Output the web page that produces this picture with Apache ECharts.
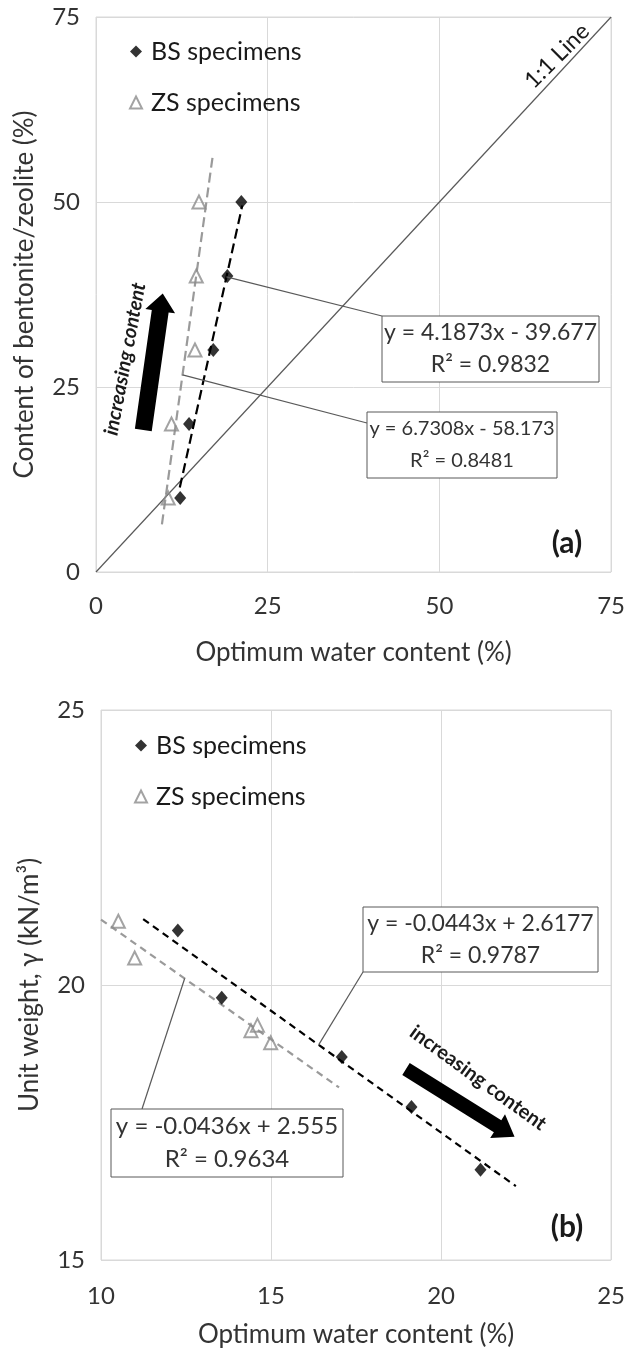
<!DOCTYPE html>
<html>
<head>
<meta charset="utf-8">
<script src="https://cdn.jsdelivr.net/npm/echarts@6/dist/echarts.min.js"></script>
<style>
  html, body { margin: 0; padding: 0; background: #fff; }
  #chart { width: 628px; height: 1349px; }
</style>
</head>
<body>
<div id="chart"></div>
<script>
// Bentonite / zeolite content of the specimens (%)
const contentPct = [10, 20, 30, 40, 50];
// Optimum water content (%) at each content level
const bsWater = [12.26, 13.55, 17.08, 19.13, 21.16];
const zsWater = [10.51, 10.99, 14.41, 14.60, 14.99];
// Maximum dry unit weight (kN/m³) at each content level
const bsUnitWeight = [20.99, 19.77, 18.69, 17.78, 16.64];
const zsUnitWeight = [21.16, 20.49, 19.17, 19.27, 18.95];

// Axis ticks
const waterTicksA = [0, 25, 50, 75];
const contentTicks = [0, 25, 50, 75];
const waterTicksB = [10, 15, 20, 25];
const unitWeightTicks = [15, 20, 25];

// Linear trendlines (slope, intercept, R², drawn x-range)
const bsContentFit = [4.1873, -39.677, '0.9832', 12.2, 21.3];
const zsContentFit = [6.7308, -58.173, '0.8481', 9.6, 17.05];
const bsWeightFit = [-0.0443, 2.6177, '0.9787', 11.24, 22.2];
const zsWeightFit = [-0.0436, 2.555, '0.9634', 10.0, 17.0];
// unit-weight fits are in Mg/m³; ×10 gives kN/m³ on the axis
const WEIGHT_UNIT = 10;

const FONT = 'Lato, "Open Sans", sans-serif';
const TEXT = '#333333';
const LIGHT = '#d9d9d9';
const GREY = '#8c8c8c';

const zip = (xs, ys) => xs.map((x, i) => [x, ys[i]]);
const fitLine = (f, k) => [[f[3], k * (f[0] * f[3] + f[1])], [f[4], k * (f[0] * f[4] + f[1])]];
const fitAt = (f, k, x) => [x, k * (f[0] * x + f[1])];
const eqText = f => {
  const sign = f[1] < 0 ? '-' : '+';
  return 'y = ' + f[0] + 'x ' + sign + ' ' + Math.abs(f[1]) + '\nR² = ' + f[2];
};
const step = t => t[1] - t[0];

const gridA = { left: 96, top: 17, width: 519, height: 555 };
const gridB = { left: 101, top: 710, width: 511, height: 550 };

function valueAxis(ticks, gridIndex, name, nameGap, labelMargin) {
  return {
    type: 'value', gridIndex,
    min: ticks[0], max: ticks[ticks.length - 1], interval: step(ticks),
    name, nameLocation: 'middle', nameGap,
    nameTextStyle: { color: TEXT, fontFamily: FONT, fontSize: 26 },
    axisLine: { show: false }, axisTick: { show: false },
    axisLabel: { color: TEXT, fontFamily: FONT, fontSize: 24, margin: labelMargin },
    splitLine: { show: true, lineStyle: { color: LIGHT, width: 1 } }
  };
}

const bsScatterStyle = { symbol: 'diamond', symbolSize: [12, 14], itemStyle: { color: '#000' } };
const zsScatterStyle = { symbol: 'triangle', symbolSize: 13,
  itemStyle: { color: 'rgba(255,255,255,0)', borderColor: GREY, borderWidth: 2 } };

function trend(name, xi, data, color, dash) {
  return { name, type: 'line', xAxisIndex: xi, yAxisIndex: xi, data, symbol: 'none', silent: true,
    lineStyle: { color, width: 2.2, type: dash }, z: 3 };
}

function legendFor(left, top) {
  return {
    orient: 'vertical', left, top, itemGap: 26, itemWidth: 12, itemHeight: 12,
    selectedMode: false,
    textStyle: { color: '#1a1a1a', fontFamily: FONT, fontSize: 25, padding: [0, 0, 0, 4] },
    data: [
      { name: 'BS specimens', icon: 'diamond', itemStyle: { color: '#000' } },
      { name: 'ZS specimens', icon: 'triangle',
        itemStyle: { color: 'rgba(255,255,255,0)', borderColor: GREY, borderWidth: 2 } }
    ]
  };
}

const chart = echarts.init(document.getElementById('chart'));
chart.setOption({
  animation: false,
  backgroundColor: '#fff',
  grid: [
    Object.assign({ show: true, borderColor: LIGHT, borderWidth: 1 }, gridA),
    Object.assign({ show: true, borderColor: LIGHT, borderWidth: 1 }, gridB)
  ],
  xAxis: [
    valueAxis(waterTicksA, 0, 'Optimum water content (%)', 68, 22),
    valueAxis(waterTicksB, 1, 'Optimum water content (%)', 62, 24)
  ],
  yAxis: [
    valueAxis(contentTicks, 0, 'Content of bentonite/zeolite (%)', 58, 16),
    valueAxis(unitWeightTicks, 1, 'Unit weight, γ (kN/m³)', 58, 16)
  ],
  legend: [legendFor(124, 34), legendFor(129, 728)],
  series: [
    { name: '1:1 Line', type: 'line', xAxisIndex: 0, yAxisIndex: 0, data: [[0, 0], [75, 75]],
      symbol: 'none', silent: true, lineStyle: { color: '#595959', width: 1.2 }, z: 1 },
    Object.assign({ name: 'BS specimens', type: 'scatter', xAxisIndex: 0, yAxisIndex: 0,
      data: zip(bsWater, contentPct), z: 4 }, bsScatterStyle),
    Object.assign({ name: 'ZS specimens', type: 'scatter', xAxisIndex: 0, yAxisIndex: 0,
      data: zip(zsWater, contentPct), z: 4 }, zsScatterStyle),
    trend('BS fit a', 0, fitLine(bsContentFit, 1), '#000', [10, 5]),
    trend('ZS fit a', 0, fitLine(zsContentFit, 1), '#9a9a9a', [10, 5]),
    Object.assign({ name: 'BS specimens', type: 'scatter', xAxisIndex: 1, yAxisIndex: 1,
      data: zip(bsWater, bsUnitWeight), z: 4 }, bsScatterStyle),
    Object.assign({ name: 'ZS specimens', type: 'scatter', xAxisIndex: 1, yAxisIndex: 1,
      data: zip(zsWater, zsUnitWeight), z: 4 }, zsScatterStyle),
    trend('BS fit b', 1, fitLine(bsWeightFit, WEIGHT_UNIT), '#000', [7, 5]),
    trend('ZS fit b', 1, fitLine(zsWeightFit, WEIGHT_UNIT), '#9a9a9a', [7, 5])
  ]
});

// ---- annotations: equation boxes, leader lines, arrows, panel tags ----
const deg = a => a * Math.PI / 180;

function eqBox(x, y, w, h, fit, fontSize) {
  return [
    { type: 'rect', shape: { x, y, width: w, height: h }, z: 20,
      style: { fill: '#fff', stroke: '#595959', lineWidth: 1 } },
    { type: 'text', x: x + w / 2, y: y + h / 2, z: 21,
      style: { text: eqText(fit), align: 'center', verticalAlign: 'middle',
        fontFamily: FONT, fontSize, lineHeight: h / 2 - 1, fill: TEXT } }
  ];
}

function leader(gridIdx, point, end) {
  const p = chart.convertToPixel({ xAxisIndex: gridIdx, yAxisIndex: gridIdx }, point);
  return { type: 'line', z: 19, shape: { x1: p[0], y1: p[1], x2: end[0], y2: end[1] },
    style: { stroke: '#595959', lineWidth: 1.2 } };
}

function arrow(x, y, angle, L, w, H, h) {
  return { type: 'polygon', x, y, rotation: deg(angle), z: 15,
    shape: { points: [[0, -w / 2], [L - h, -w / 2], [L - h, -H / 2], [L, 0], [L - h, H / 2], [L - h, w / 2], [0, w / 2]] },
    style: { fill: '#000' } };
}

function label(text, x, y, rotation, fontSize, weight, style) {
  return { type: 'text', x, y, rotation: deg(rotation), z: 16,
    style: { text, align: 'center', verticalAlign: 'middle', fontFamily: FONT, fontSize,
      fontWeight: weight || 'normal', fontStyle: style || 'normal', fill: '#1a1a1a' } };
}

chart.setOption({
  graphic: [].concat(
    leader(0, fitAt(bsContentFit, 1, 19.0), [382, 316]),
    leader(0, fitAt(zsContentFit, 1, 12.6), [367, 423]),
    leader(1, fitAt(bsWeightFit, WEIGHT_UNIT, 16.4), [363, 972]),
    leader(1, fitAt(zsWeightFit, WEIGHT_UNIT, 12.46), [142, 1109]),
    eqBox(382, 316, 217, 66, bsContentFit, 23),
    eqBox(367, 412, 190, 66, zsContentFit, 20),
    eqBox(363, 907, 235, 65, bsWeightFit, 23),
    eqBox(111, 1109, 232, 68, zsWeightFit, 24),
    arrow(143.3, 430, 81.9, 138, 17, 30, 18),
    arrow(406, 1069, -32, 128, 14, 28, 20),
    label('increasing content', 125, 359, 79.5, 20, 'bold', 'italic'),
    label('increasing content', 478, 1078, -36, 20, 'bold'),
    label('1:1 Line', 557, 56, 45, 23),
    label('(a)', 567, 543, 0, 30, 'bold'),
    label('(b)', 567, 1227, 0, 30, 'bold')
  )
});
</script>
</body>
</html>
